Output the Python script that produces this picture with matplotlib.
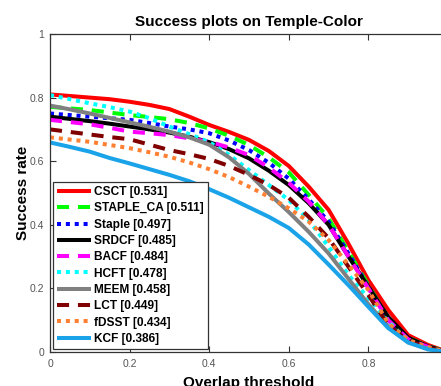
import matplotlib
matplotlib.use("Agg")
import matplotlib.pyplot as plt

plt.rcParams['font.family'] = ['Liberation Sans', 'DejaVu Sans']

# overlap thresholds and success rates per tracker
thresholds = [0.0, 0.05, 0.1, 0.15, 0.2, 0.25, 0.3, 0.35, 0.4, 0.45, 0.5,
              0.55, 0.6, 0.65, 0.7, 0.75, 0.8, 0.85, 0.9, 0.95, 1.0]

csct = [0.81, 0.805, 0.80, 0.795, 0.787, 0.777, 0.764, 0.74, 0.714, 0.692, 0.667,
        0.632, 0.585, 0.52, 0.447, 0.34, 0.226, 0.132, 0.053, 0.022, 0.0]
staple_ca = [0.771, 0.766, 0.761, 0.753, 0.745, 0.739, 0.732, 0.72, 0.703, 0.68, 0.651,
             0.612, 0.565, 0.494, 0.42, 0.315, 0.21, 0.105, 0.045, 0.018, 0.0]
staple = [0.750, 0.745, 0.740, 0.735, 0.730, 0.72, 0.709, 0.70, 0.688, 0.665, 0.635,
          0.595, 0.545, 0.48, 0.41, 0.31, 0.205, 0.10, 0.042, 0.017, 0.0]
srdcf = [0.740, 0.733, 0.726, 0.718, 0.709, 0.70, 0.69, 0.677, 0.66, 0.638, 0.609,
         0.57, 0.525, 0.468, 0.40, 0.30, 0.205, 0.11, 0.045, 0.017, 0.0]
bacf = [0.730, 0.723, 0.716, 0.705, 0.693, 0.688, 0.682, 0.672, 0.661, 0.643, 0.619,
        0.58, 0.532, 0.473, 0.40, 0.30, 0.20, 0.10, 0.04, 0.016, 0.0]
hcft = [0.808, 0.795, 0.782, 0.77, 0.756, 0.735, 0.709, 0.685, 0.66, 0.62, 0.572,
        0.525, 0.478, 0.415, 0.331, 0.242, 0.169, 0.095, 0.035, 0.012, 0.0]
meem = [0.775, 0.763, 0.75, 0.736, 0.722, 0.708, 0.693, 0.675, 0.652, 0.612, 0.56,
        0.498, 0.44, 0.378, 0.31, 0.23, 0.15, 0.08, 0.03, 0.01, 0.0]
lct = [0.70, 0.692, 0.684, 0.676, 0.669, 0.652, 0.635, 0.622, 0.607, 0.585, 0.557,
       0.525, 0.485, 0.425, 0.358, 0.268, 0.179, 0.085, 0.035, 0.014, 0.0]
fdsst = [0.675, 0.668, 0.661, 0.651, 0.641, 0.628, 0.614, 0.596, 0.575, 0.55, 0.52,
         0.488, 0.452, 0.41, 0.352, 0.274, 0.195, 0.09, 0.038, 0.015, 0.0]
kcf = [0.659, 0.645, 0.63, 0.61, 0.593, 0.575, 0.557, 0.537, 0.512, 0.485, 0.455,
       0.425, 0.39, 0.338, 0.275, 0.21, 0.142, 0.075, 0.03, 0.008, 0.0]

names = ['CSCT', 'STAPLE_CA', 'Staple', 'SRDCF', 'BACF', 'HCFT', 'MEEM', 'LCT', 'fDSST', 'KCF']
scores = [0.531, 0.511, 0.497, 0.485, 0.484, 0.478, 0.458, 0.449, 0.434, 0.386]
curves = [csct, staple_ca, staple, srdcf, bacf, hcft, meem, lct, fdsst, kcf]

colors = ['#FF0000', '#00FF00', '#0000FF', '#000000', '#FF00FF',
          '#00FFFF', '#808080', '#800000', '#FF8033', '#1AA3E8']
dashes = [None, (3.0, 2.2), (1.0, 1.2), None, (3.0, 2.2),
          (1.0, 1.2), None, (3.0, 2.2), (1.0, 1.2), None]

fig = plt.figure(figsize=(4.41, 3.86), dpi=100)
ax = fig.add_axes([50/441., 34/386., 398/441., 318/386.])

for name, sc, y, c, d in zip(names, scores, curves, colors, dashes):
    line, = ax.plot(thresholds, y, color=c, linewidth=2.9,
                    label='%s [%.3f]' % (name, sc))
    if d is not None:
        line.set_dashes(d)
    line.set_solid_capstyle('butt')
    line.set_dash_capstyle('butt')

ax.set_xlim(0, 1)
ax.set_ylim(0, 1)
# the x=1 tick sits on the clipped right edge, so it gets no label
ax.set_xticks([0, 0.2, 0.4, 0.6, 0.8, 1])
ax.set_xticklabels(['0', '0.2', '0.4', '0.6', '0.8', ''])
ax.set_yticks([0, 0.2, 0.4, 0.6, 0.8, 1])
ax.set_yticklabels(['0', '0.2', '0.4', '0.6', '0.8', '1'])
ax.tick_params(direction='in', top=True, right=True, length=4, width=0.8,
               labelsize=7.5, labelcolor='#555555', color='#333333')
ax.tick_params(axis='y', pad=4)
ax.tick_params(axis='x', pad=5)
for s in ax.spines.values():
    s.set_color('#333333')
    s.set_linewidth(0.9)

ax.set_title('Success plots on Temple-Color', fontsize=11, fontweight='bold', pad=6)
ax.set_xlabel('Overlap threshold', fontsize=11, fontweight='bold')
ax.set_ylabel('Success rate', fontsize=11, fontweight='bold')
ax.xaxis.set_label_coords(0.5, -0.074)
ax.yaxis.set_label_coords(-0.05, 0.5)

leg = ax.legend(loc='lower left', bbox_to_anchor=(3/398., 3/318.),
                prop={'weight': 'bold', 'size': 8.6}, handlelength=2.8,
                handletextpad=0.3, labelspacing=0.36, borderpad=0.35,
                fancybox=False, framealpha=1, borderaxespad=0.0)
leg.get_frame().set_edgecolor('#333333')
leg.get_frame().set_linewidth(0.9)

fig.savefig('out.png', dpi=100)
